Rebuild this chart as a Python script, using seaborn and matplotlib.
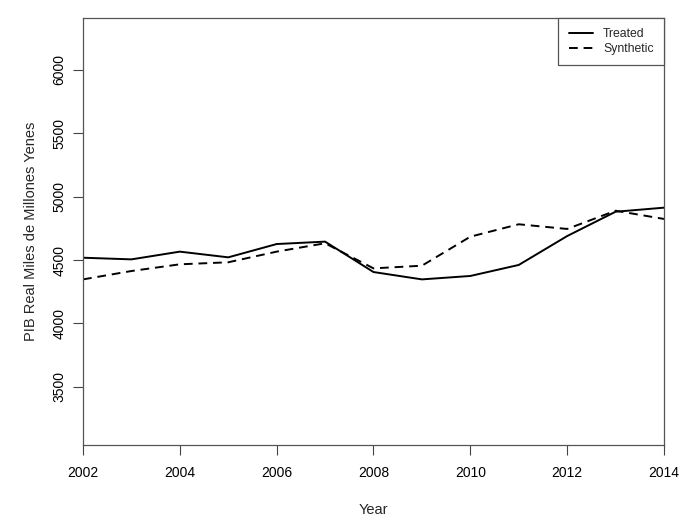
import numpy as np
import pandas as pd
import matplotlib
matplotlib.use("Agg")
import matplotlib.pyplot as plt
import seaborn as sns

years = list(range(2002, 2015))
treated = [4518, 4505, 4566, 4521, 4626, 4645, 4405, 4347, 4374, 4461, 4689, 4881, 4913]
synthetic = [4347, 4413, 4466, 4482, 4566, 4632, 4434, 4455, 4684, 4782, 4745, 4889, 4824]
series_names = ["Treated", "Synthetic"]
x_ticks = [2002, 2004, 2006, 2008, 2010, 2012, 2014]
y_ticks = [3500, 4000, 4500, 5000, 5500, 6000]

df = pd.DataFrame({
    "Year": years * 2,
    "value": treated + synthetic,
    "series": [series_names[0]] * len(years) + [series_names[1]] * len(years),
})

sns.set_style("white")
plt.rcParams["font.family"] = ["Liberation Sans", "DejaVu Sans"]

fig = plt.figure(figsize=(6.82, 5.26), dpi=100)
ax = fig.add_axes([0.1217, 0.154, 0.8519, 0.8118])

sns.lineplot(data=df, x="Year", y="value", style="series", style_order=series_names,
             dashes={"Treated": "", "Synthetic": (4.5, 3)}, color="black",
             linewidth=1.4, ax=ax, legend=True)

ax.set_xlim(2002, 2014)
ax.set_ylim(3040, 6410)
ax.set_xticks(x_ticks)
ax.set_yticks(y_ticks)
ax.set_yticklabels([str(v) for v in y_ticks], rotation=90, va="center")
ax.tick_params(axis="both", which="both", direction="out", length=7, width=0.8,
               colors="#444444", labelcolor="black", labelsize=10, left=True, bottom=True)
ax.tick_params(axis="x", pad=8)
ax.tick_params(axis="y", pad=5)
for s in ax.spines.values():
    s.set_color("#555555")
    s.set_linewidth(0.9)

ax.set_xlabel("Year", fontsize=10.5, labelpad=17)
ax.set_ylabel("PIB Real Miles de Millones Yenes", fontsize=10.5, labelpad=10)

leg = ax.legend(loc="upper right", borderaxespad=0, fancybox=False, framealpha=1,
                edgecolor="#555555", fontsize=8.8, handlelength=2.0, title=None,
                borderpad=0.85, labelspacing=0.2, handletextpad=0.8)
leg.get_frame().set_linewidth(0.9)

fig.savefig("out.png", dpi=100)
